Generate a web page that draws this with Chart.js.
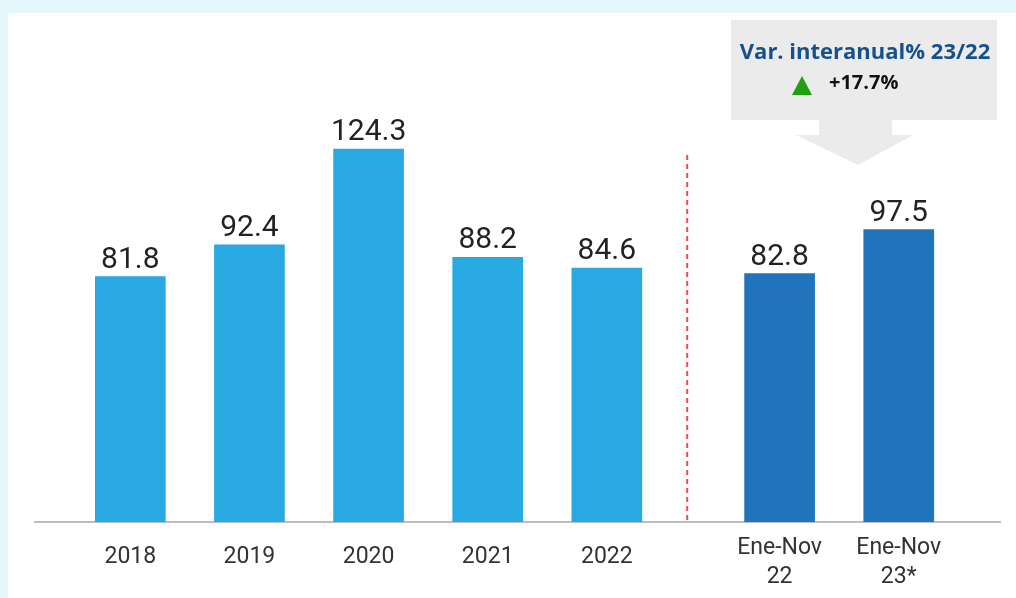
<!DOCTYPE html>
<html>
<head>
<meta charset="utf-8">
<script src="https://cdn.jsdelivr.net/npm/chart.js@4.4.1/dist/chart.umd.min.js"></script>
<style>
  html, body { margin: 0; padding: 0; background: #e6f6fd; }
  #wrap { position: relative; width: 1016px; height: 598px; }
</style>
</head>
<body>
<div id="wrap"><canvas id="chart" width="1016" height="598"></canvas></div>
<script>
// data
var categories = ['2018', '2019', '2020', '2021', '2022', ['Ene-Nov', '22'], ['Ene-Nov', '23*']];
var values = [81.8, 92.4, 124.3, 88.2, 84.6, 82.8, 97.5];
var periodTypes = ['year', 'year', 'year', 'year', 'year', 'ytd', 'ytd'];
var calloutTitle = 'Var. interanual% 23/22';
var calloutValue = '+17.7%';

var yearColor = '#29a9e1';
var ytdColor = '#1f74bc';
var groupGap = 0.45; // extra space before the Ene-Nov group

// x position of each category on a linear scale (index, plus gap for the 2nd group)
var xPos = categories.map(function(c, i) {
    return periodTypes[i] === 'ytd' ? i + groupGap : i;
});

var points = values.map(function(v, i) { return { x: xPos[i], y: v }; });

var backgroundPlugin = {
    id: 'bg',
    beforeDraw: function(chart) {
        var ctx = chart.ctx;
        ctx.save();
        ctx.fillStyle = '#e6f6fd';
        ctx.fillRect(0, 0, chart.width, chart.height);
        ctx.fillStyle = '#ffffff';
        ctx.fillRect(8, 13, chart.width - 8, chart.height - 13);
        ctx.restore();
    }
};

var extrasPlugin = {
    id: 'extras',
    afterDatasetsDraw: function(chart) {
        var ctx = chart.ctx;
        var xs = chart.scales.x;
        var meta = chart.getDatasetMeta(0);

        // value labels
        ctx.save();
        ctx.font = '30px Roboto';
        ctx.fillStyle = '#222222';
        ctx.textAlign = 'center';
        ctx.textBaseline = 'alphabetic';
        meta.data.forEach(function(bar, i) {
            ctx.fillText(values[i].toFixed(1), bar.x, bar.y - 9);
        });
        ctx.restore();

        // dashed separator between the two groups
        var firstYtd = periodTypes.indexOf('ytd');
        var sepX = xs.getPixelForValue((xPos[firstYtd - 1] + xPos[firstYtd]) / 2) - 6;
        ctx.save();
        ctx.strokeStyle = '#f04a44';
        ctx.lineWidth = 2;
        ctx.setLineDash([5, 4]);
        ctx.beginPath();
        ctx.moveTo(sepX, 155);
        ctx.lineTo(sepX, chart.chartArea.bottom);
        ctx.stroke();
        ctx.restore();

        // callout box with arrow
        ctx.save();
        ctx.fillStyle = '#ebebeb';
        ctx.fillRect(731, 20, 266, 100);
        ctx.beginPath();
        ctx.moveTo(819, 120);
        ctx.lineTo(892, 120);
        ctx.lineTo(892, 135);
        ctx.lineTo(913, 135);
        ctx.lineTo(858, 165);
        ctx.lineTo(796, 135);
        ctx.lineTo(819, 135);
        ctx.closePath();
        ctx.fill();

        ctx.textAlign = 'center';
        ctx.textBaseline = 'alphabetic';
        ctx.fillStyle = '#17518b';
        ctx.font = 'bold 22px "Open Sans"';
        ctx.fillText(calloutTitle, 865, 59);

        ctx.fillStyle = '#111111';
        ctx.font = 'bold 20px "Open Sans"';
        ctx.textAlign = 'left';
        ctx.fillText(calloutValue, 829, 89);

        ctx.fillStyle = '#1fa010';
        ctx.beginPath();
        ctx.moveTo(802, 76);
        ctx.lineTo(812, 95);
        ctx.lineTo(792, 95);
        ctx.closePath();
        ctx.fill();
        ctx.restore();
    }
};

new Chart(document.getElementById('chart'), {
    type: 'bar',
    data: {
        datasets: [{
            data: points,
            backgroundColor: periodTypes.map(function(t) { return t === 'ytd' ? ytdColor : yearColor; }),
            barThickness: 70,
            borderWidth: 0
        }]
    },
    options: {
        responsive: false,
        animation: false,
        events: [],
        layout: { padding: { left: 35, right: 16, top: 30, bottom: 0 } },
        plugins: { legend: { display: false }, tooltip: { enabled: false } },
        scales: {
            x: {
                type: 'linear',
                offset: false,
                min: -0.8,
                max: 7.3,
                grid: { display: false, drawTicks: false },
                border: { display: true, color: '#bdbdbd', width: 2 },
                afterBuildTicks: function(scale) {
                    scale.ticks = xPos.map(function(v) { return { value: v }; });
                },
                afterFit: function(scale) { scale.height = 76; },
                ticks: {
                    autoSkip: false,
                    maxRotation: 0,
                    padding: 12,
                    color: '#333333',
                    font: function(c) {
                        var multi = Array.isArray(categories[c.index]);
                        return { family: 'Roboto', size: 23, lineHeight: multi ? 29 / 23 : 46 / 23 };
                    },
                    callback: function(value, index) { return categories[index]; }
                }
            },
            y: {
                display: false,
                min: 0,
                max: 164
            }
        }
    },
    plugins: [backgroundPlugin, extrasPlugin]
});
</script>
</body>
</html>
